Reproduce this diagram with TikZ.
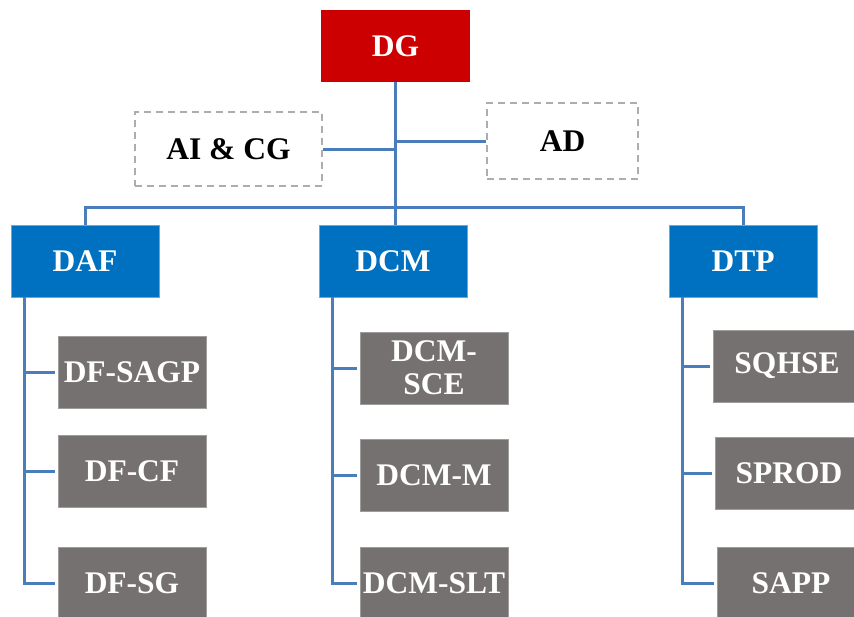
\documentclass[tikz,border=0pt]{standalone}
\usepackage{fontspec}
\setmainfont{Liberation Serif}
\usetikzlibrary{positioning}

\definecolor{dgred}{HTML}{CC0000}
\definecolor{dirblue}{HTML}{0070C0}
\definecolor{servgray}{HTML}{767171}
\definecolor{linkblue}{HTML}{4A7EBB}
\definecolor{dashgray}{HTML}{ADADAD}

\tikzset{
  box/.style={minimum width=148pt, minimum height=72pt, inner sep=0pt, text=white,
    font=\fontsize{31.5}{33}\selectfont\bfseries, align=center},
  topbox/.style={box, fill=dgred},
  dirbox/.style={box, fill=dirblue, draw=dirblue!60, line width=0.8pt},
  servbox/.style={box, fill=servgray, draw=servgray!70, line width=0.8pt},
  staffbox/.style={box, text=black, draw=dashgray, dash pattern=on 7pt off 5pt, line width=2.2pt},
  link/.style={draw=linkblue, line width=3pt}
}

\begin{document}
\begin{tikzpicture}[x=1pt,y=-1pt]
\clip (0,0) rectangle (854,616);

% Direction generale
\node[topbox, minimum width=149pt] (dg) at (395.5,46) {DG};

% Staff boxes (dashed)
\node[staffbox, minimum width=187pt, minimum height=74pt] (aicg) at (228.5,149) {AI \& CG};
\node[staffbox, minimum width=151pt, minimum height=76pt] (ad) at (562.5,141) {AD};

% Directions (blue)
\node[dirbox] (daf) at (85,261) {DAF};
\node[dirbox] (dcm) at (393,261) {DCM};
\node[dirbox] (dtp) at (743,261) {DTP};

% Services under DAF
\node[servbox] (dfsagp) at (132,372.5) {DF-SAGP};
\node[servbox] (dfcf) at (132,471) {DF-CF};
\node[servbox] (dfsg) at (132,583) {DF-SG};

% Services under DCM
\node[servbox] (dcmsce) at (434,368) {DCM-\\SCE};
\node[servbox] (dcmm) at (434,475.5) {DCM-M};
\node[servbox] (dcmslt) at (434,583) {DCM-SLT};

% Services under DTP
\node[servbox] (sqhse) at (787,366) {SQHSE};
\node[servbox] (sprod) at (789,473) {SPROD};
\node[servbox] (sapp) at (791,583) {SAPP};

% Trunk and bus
\coordinate (bus) at (395.5,207);
\draw[link] (dg.south) -- (dg.south |- dcm.north);
\draw[link] (daf.north) |- (bus) -| (dtp.north);
\draw[link] (aicg.east) -- (aicg.east -| dg.south);
\draw[link] (ad.west) -- (ad.west -| dg.south);

% Links to services
\foreach \boss/\kid in {daf/dfsagp, daf/dfcf, daf/dfsg,
                        dcm/dcmsce, dcm/dcmm, dcm/dcmslt,
                        dtp/sqhse, dtp/sprod, dtp/sapp}
{
    \draw[link] ([xshift=13.5pt]\boss.south west) |- ([xshift=-3pt]\kid.west);
}

\end{tikzpicture}
\end{document}
